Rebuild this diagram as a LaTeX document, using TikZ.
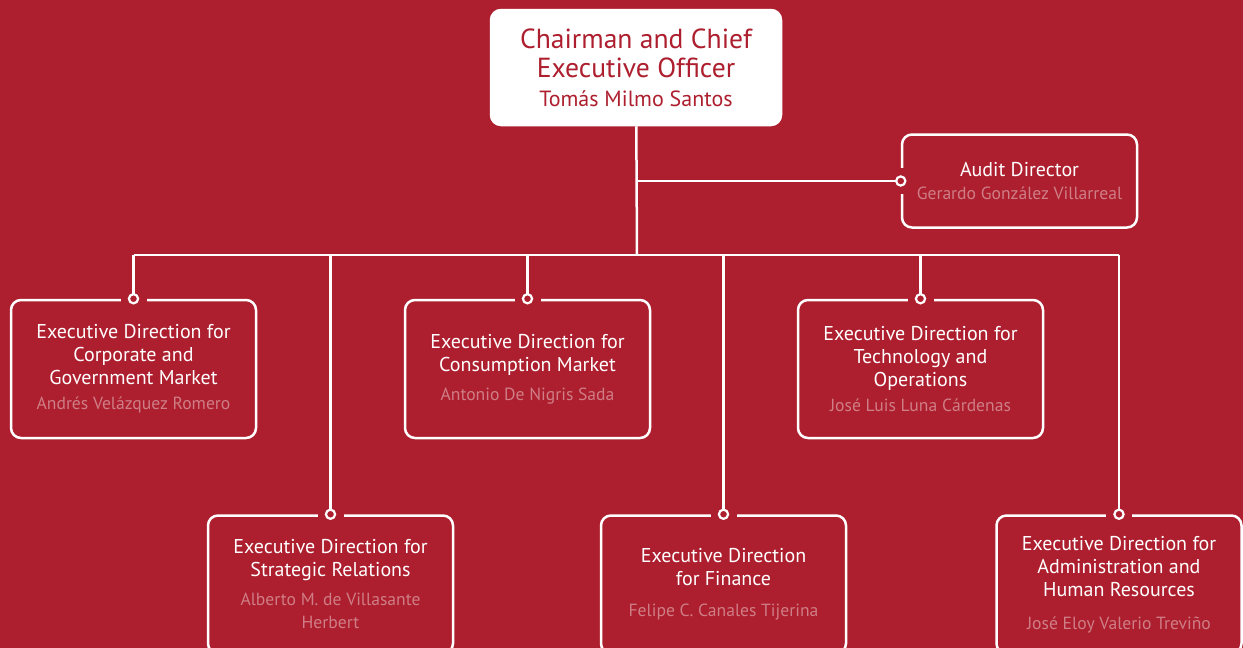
\documentclass[tikz,border=0pt]{standalone}
\usepackage{fontspec}
\setmainfont{PT Sans}
\definecolor{brand}{RGB}{173,31,46}
\colorlet{namecol}{white!42!brand}
\newcommand{\who}[1]{{\color{namecol}\fontsize{8.8}{10}\selectfont #1}}

\begin{document}
\begin{tikzpicture}[x=0.5pt, y=-0.5pt,
    box/.style={draw=white, line width=1.25pt, rounded corners=5pt,
        align=center, text=white, inner sep=0pt,
        font=\fontsize{10}{11.5}\selectfont
    },
    unit/.style={box, minimum width=122.5pt, minimum height=69pt},
    head/.style={box, fill=white, text=brand, minimum width=145pt,
        minimum height=57.5pt, font=\fontsize{13.8}{14.5}\selectfont
    },
    link/.style={draw=white, line width=1.25pt},
    gap/.style={fill=brand, minimum width=13pt, minimum height=4pt, inner sep=0pt},
    dot/.style={circle, draw=white, fill=brand, line width=1.1pt,
        minimum size=4.6pt, inner sep=0pt
    }
    ]
    \useasboundingbox (0,0) rectangle (1243,648);
    \clip (0,0) rectangle (1243,648);
    \fill[brand] (0,0) rectangle (1243,648);

    \node[head] (ceo) at (636,67.5) {Chairman and Chief\\Executive Officer\\
        {\fontsize{11}{14.5}\selectfont Tomás Milmo Santos}};
    \node[box, minimum width=117.5pt, minimum height=46.5pt] (audit) at (1019.5,181)
        {Audit Director\\[0pt]\who{Gerardo González Villarreal}};

    \node[unit] (corp) at (133.5,369) {Executive Direction for\\Corporate and\\
        Government Market\\[1pt]\who{Andrés Velázquez Romero}};
    \node[unit] (cons) at (527.5,369) {Executive Direction for\\Consumption Market\\[3pt]
        \who{Antonio De Nigris Sada}};
    \node[unit] (tech) at (920.5,369) {Executive Direction for\\Technology and\\
        Operations\\[1pt]\who{José Luis Luna Cárdenas}};

    \node[unit] (strat) at (330.5,584.5) {Executive Direction for\\Strategic Relations\\[3pt]
        \who{Alberto M. de Villasante}\\\who{Herbert}};
    \node[unit] (fin) at (723.5,584.5) {Executive Direction\\for Finance\\[4pt]
        \who{Felipe C. Canales Tijerina}};
    \node[unit] (admin) at (1119,584.5) {Executive Direction for\\Administration and\\
        Human Resources\\[5pt]\who{José Eloy Valerio Treviño}};

    \coordinate (hub) at (637,255);
    \draw[link] (ceo) -- (hub);
    \draw[link] (ceo.south |- audit.west) -- (audit.west);
    \draw[link] (corp.north |- hub) -- (admin.north |- hub);
    \foreach \n in {corp,cons,tech,strat,fin,admin}{
        \draw[link] (\n.north |- hub) -- (\n.north);
        \node[gap] at (\n.north) {};
        \node[dot] at (\n.north) {};
    }
    \node[gap, rotate=90] at (audit.west) {};
    \node[dot] at (audit.west) {};
\end{tikzpicture}
\end{document}
